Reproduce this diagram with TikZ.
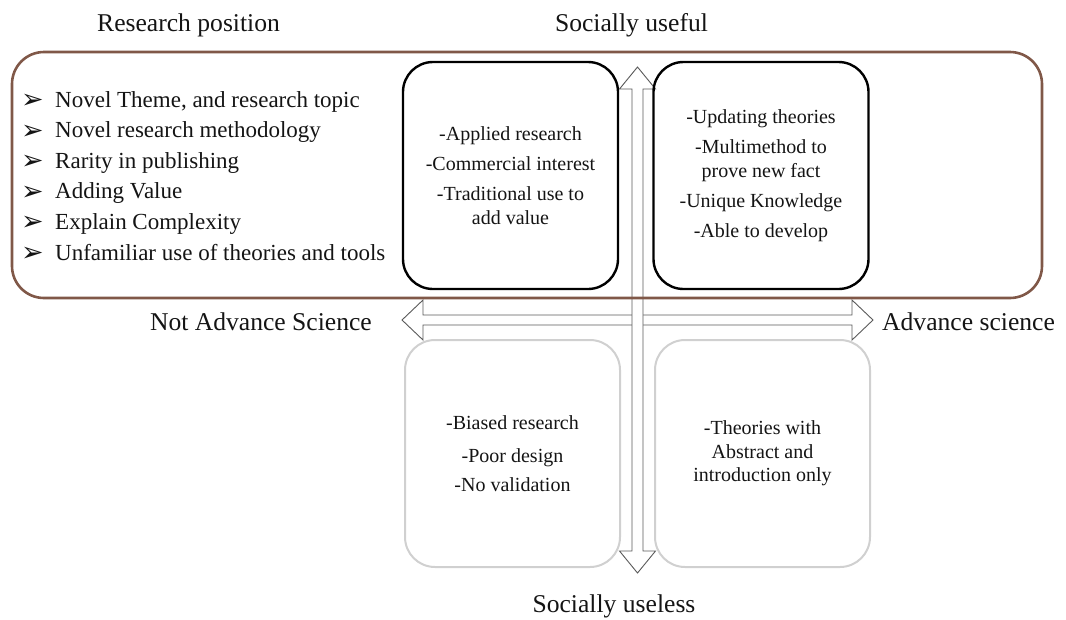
\documentclass[tikz,border=0pt]{standalone}
\usepackage{fontspec}
\setmainfont{Liberation Serif}
\newfontfamily\symfont{DejaVu Sans}
\definecolor{ink}{RGB}{20,20,20}
\definecolor{rust}{RGB}{128,88,72}
\definecolor{softgray}{RGB}{208,208,208}
\definecolor{axisgray}{RGB}{90,90,90}
\begin{document}
\begin{tikzpicture}[x=1pt,y=-1pt,
  every node/.style={inner sep=0pt, text=ink},
  biglabel/.style={font=\fontsize{25.6}{30}\selectfont},
  item/.style={anchor=base west, font=\fontsize{23}{28}\selectfont},
  quad/.style={draw, rounded corners=30pt, minimum width=215pt, minimum height=227pt,
               align=center, font=\fontsize{20}{23.5}\selectfont},
  upperquad/.style={quad, draw=black, line width=2.4pt},
  lowerquad/.style={quad, draw=softgray, line width=2pt},
  axis/.style={draw=axisgray, fill=white, line width=0.9pt, line join=miter},
  frame/.style={draw=rust, line width=2.6pt, rounded corners=32pt,
                minimum width=1030pt, minimum height=246pt}
]
\useasboundingbox (0,0) rectangle (1066,619);

% horizontal axis: science advancement
\coordinate (hl) at (402,320);
\coordinate (hr) at (873,320);
\draw[axis] (hl) -- ++(21,-20) -- ++(0,15) -- (852,315) -- ++(0,-15) -- (hr)
  -- (852,340) -- ++(0,-15) -- (423,325) -- ++(0,15) -- cycle;

% vertical axis: social usefulness
\coordinate (vt) at (637.5,67);
\coordinate (vb) at (637.5,573);
\draw[axis] (vt) -- (655.5,89) -- (643,89) -- (643,551) -- (655.5,551) -- (vb)
  -- (619.5,551) -- (632,551) -- (632,89) -- (619.5,89) -- cycle;

% research position frame
\node[frame] (pos) at (527,175) {};

% quadrants
\node[upperquad] (qA) at (510.5,175.5)
  {-Applied research\\[7pt]-Commercial interest\\[6.5pt]-Traditional use to\\add value};
\node[upperquad] (qB) at (761,175.5)
  {-Updating theories\\[7pt]-Multimethod to\\prove new fact\\[6.5pt]-Unique Knowledge\\[6.5pt]-Able to develop};
\node[lowerquad] (qC) at (512.5,453.5)
  {-Biased research\\[9.5pt]-Poor design\\[5.5pt]-No validation};
\node[lowerquad] (qD) at (762.5,453.5)
  {-Theories with\\Abstract and\\introduction only};

% bullet list of research position criteria
\foreach \txt [count=\i from 0] in {{Novel Theme, and research topic},
    Novel research methodology, Rarity in publishing, Adding Value,
    Explain Complexity, Unfamiliar use of theories and tools}
  \node[item] (b\i) at (21,107+30.6*\i)
    {\makebox[34pt][l]{\raisebox{-1.5pt}{\symfont\fontsize{27}{27}\selectfont ➢}}\txt};

% axis labels
\node[biglabel, anchor=base west] (title) at (97,31.5) {Research position};
\node[biglabel, anchor=base] (useful) at (631.5,31.5) {Socially useful};
\node[biglabel, anchor=base east] (notadv) at (372,330) {Not Advance Science};
\node[biglabel, anchor=base west] (adv) at (882,330) {Advance science};
\node[biglabel, anchor=base] (useless) at (614,612) {Socially useless};
\end{tikzpicture}
\end{document}
